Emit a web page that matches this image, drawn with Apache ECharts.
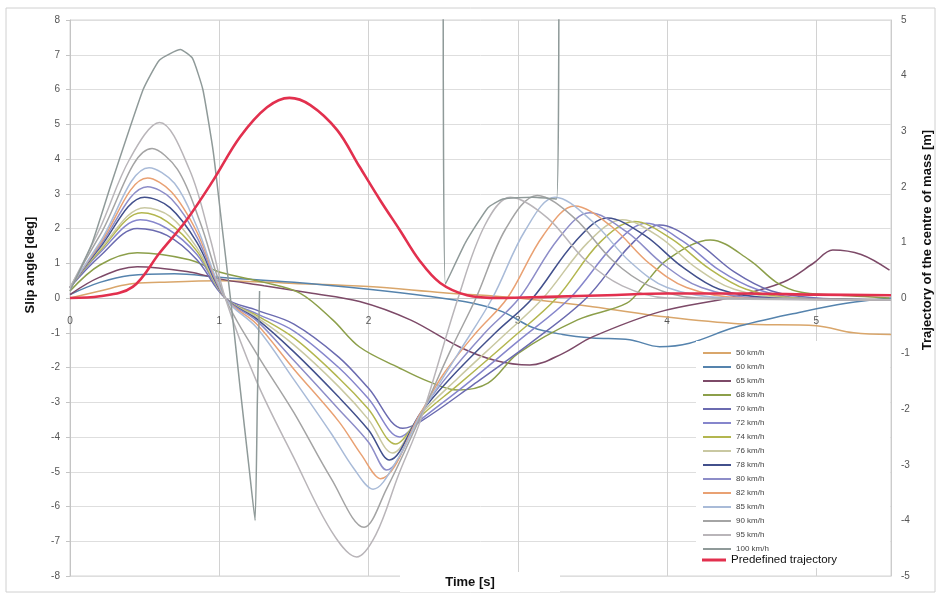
<!DOCTYPE html>
<html>
<head>
<meta charset="utf-8">
<script src="https://cdn.jsdelivr.net/npm/echarts@6/dist/echarts.min.js"></script>
<style>
  html, body { margin: 0; padding: 0; background: #ffffff; }
  #chart { width: 941px; height: 598px; }
</style>
</head>
<body>
<div id="chart"></div>
<script>
// Slip angle [deg] against time [s] for each entry speed, plus the predefined
// lateral trajectory of the centre of mass [m] on the secondary axis.

const speedNames = ['50 km/h', '60 km/h', '65 km/h', '68 km/h', '70 km/h', '72 km/h', '74 km/h',
  '76 km/h', '78 km/h', '80 km/h', '82 km/h', '85 km/h', '90 km/h', '95 km/h', '100 km/h'];
const speedColors = ['#d9a66b', '#5583ad', '#7d4a68', '#8c9f4a', '#6b6bb0', '#8686cc', '#b3b64f',
  '#c9c8a2', '#42508c', '#8d8dc8', '#e9a173', '#a9bbd8', '#a4a4a4', '#b9b5b9', '#8f9a99'];

const t50 = [0, 0.2, 0.4, 0.6, 1.0, 1.5, 2.0, 2.5, 3.0, 3.5, 4.0, 4.5, 5.0, 5.25, 5.5];
const s50 = [0.0, 0.2, 0.4, 0.45, 0.5, 0.42, 0.33, 0.15, 0.0, -0.25, -0.55, -0.75, -0.8, -1.0, -1.05];

const t60 = [0, 0.2, 0.4, 0.7, 1.0, 1.5, 2.0, 2.4, 2.7, 2.9, 3.1, 3.3, 3.5, 3.75, 3.95, 4.15, 4.45, 4.9, 5.2, 5.5];
const s60 = [0.1, 0.45, 0.65, 0.7, 0.6, 0.45, 0.25, 0.05, -0.15, -0.4, -0.85, -1.05, -1.15, -1.2, -1.4, -1.3, -0.85, -0.4, -0.15, 0.0];

const t65 = [0, 0.2, 0.45, 0.8, 1.0, 1.3, 1.6, 1.94, 2.28, 2.61, 2.85, 3.08, 3.3, 3.5, 3.95, 4.44, 4.78, 4.98, 5.11, 5.3, 5.49];
const s65 = [0.1, 0.6, 0.9, 0.75, 0.55, 0.35, 0.15, -0.1, -0.63, -1.41, -1.8, -1.93, -1.6, -1.12, -0.4, 0.03, 0.46, 1.0, 1.38, 1.25, 0.8];

const t68 = [0, 0.2, 0.45, 0.8, 1.0, 1.3, 1.54, 1.76, 1.94, 2.2, 2.4, 2.6, 2.8, 3.0, 3.4, 3.73, 3.85, 4.0, 4.29, 4.55, 4.73, 4.89, 5.11, 5.49];
const s68 = [0.2, 0.95, 1.3, 1.1, 0.75, 0.45, 0.14, -0.63, -1.41, -2.0, -2.4, -2.65, -2.45, -1.6, -0.63, -0.15, 0.4, 1.1, 1.67, 1.1, 0.46, 0.17, 0.09, 0.0];

const t70 = [0, 0.2, 0.45, 0.65, 0.85, 1.04, 1.25, 1.5, 1.8, 2.0, 2.23, 2.35, 2.7, 3.1, 3.46, 3.75, 3.95, 4.2, 4.45, 4.7, 5.0, 5.5];
const s70 = [0.3, 1.2, 2.0, 1.8, 1.1, 0.0, -0.35, -0.75, -1.7, -2.6, -3.75, -3.55, -2.5, -1.25, 0.0, 1.5, 2.1, 1.6, 0.75, 0.2, 0.0, -0.05];

const t72 = [0, 0.2, 0.47, 0.65, 0.85, 1.04, 1.25, 1.5, 1.8, 2.0, 2.21, 2.35, 2.65, 3.0, 3.35, 3.65, 3.86, 4.1, 4.35, 4.6, 4.9, 5.5];
const s72 = [0.3, 1.3, 2.25, 2.0, 1.25, 0.0, -0.45, -0.95, -2.0, -2.9, -4.0, -3.5, -2.5, -1.25, 0.0, 1.55, 2.15, 1.65, 0.8, 0.25, 0.0, -0.05];

const t74 = [0, 0.2, 0.48, 0.65, 0.85, 1.04, 1.25, 1.5, 1.8, 2.0, 2.18, 2.35, 2.6, 2.95, 3.26, 3.55, 3.78, 4.03, 4.28, 4.53, 4.85, 5.5];
const s74 = [0.3, 1.35, 2.45, 2.2, 1.35, 0.0, -0.5, -1.15, -2.3, -3.2, -4.2, -3.4, -2.5, -1.2, 0.0, 1.6, 2.2, 1.7, 0.85, 0.25, 0.0, -0.05];

const t76 = [0, 0.2, 0.5, 0.67, 0.85, 1.04, 1.25, 1.5, 1.8, 2.0, 2.16, 2.35, 2.6, 2.9, 3.17, 3.47, 3.7, 3.95, 4.2, 4.45, 4.8, 5.5];
const s76 = [0.3, 1.4, 2.6, 2.35, 1.45, 0.0, -0.55, -1.35, -2.55, -3.5, -4.46, -3.35, -2.3, -1.1, 0.0, 1.6, 2.25, 1.75, 0.85, 0.25, 0.0, -0.05];

const t78 = [0, 0.2, 0.5, 0.67, 0.85, 1.04, 1.25, 1.5, 1.8, 2.0, 2.14, 2.35, 2.55, 2.85, 3.1, 3.38, 3.6, 3.85, 4.1, 4.35, 4.7, 5.5];
const s78 = [0.3, 1.45, 2.9, 2.6, 1.6, 0.0, -0.6, -1.55, -2.85, -3.8, -4.66, -3.3, -2.3, -1.0, 0.0, 1.6, 2.3, 1.8, 0.9, 0.25, 0.0, -0.05];

const t80 = [0, 0.2, 0.52, 0.68, 0.85, 1.04, 1.25, 1.5, 1.8, 2.0, 2.12, 2.35, 2.5, 2.78, 3.01, 3.27, 3.48, 3.73, 3.98, 4.23, 4.6, 5.5];
const s80 = [0.3, 1.5, 3.2, 2.85, 1.75, 0.0, -0.65, -1.8, -3.2, -4.15, -4.95, -3.3, -2.4, -1.0, 0.0, 1.7, 2.45, 1.9, 0.95, 0.3, 0.0, -0.05];

const t82 = [0, 0.2, 0.52, 0.68, 0.85, 1.04, 1.25, 1.5, 1.8, 1.95, 2.08, 2.35, 2.5, 2.72, 2.93, 3.17, 3.38, 3.63, 3.88, 4.13, 4.5, 5.5];
const s82 = [0.3, 1.55, 3.45, 3.05, 1.9, 0.0, -0.75, -2.05, -3.55, -4.5, -5.2, -3.3, -2.2, -1.0, 0.0, 1.8, 2.65, 2.05, 1.0, 0.3, 0.0, -0.05];

const t85 = [0, 0.2, 0.53, 0.7, 0.85, 1.04, 1.25, 1.5, 1.75, 1.9, 2.03, 2.2, 2.35, 2.6, 2.83, 3.05, 3.25, 3.5, 3.75, 4.0, 4.4, 5.5];
const s85 = [0.3, 1.6, 3.75, 3.3, 2.05, 0.0, -0.85, -2.35, -3.9, -4.9, -5.5, -4.6, -3.35, -1.6, 0.0, 1.95, 2.9, 2.2, 1.05, 0.3, 0.0, -0.05];

const t90 = [0, 0.2, 0.55, 0.72, 0.87, 1.04, 1.25, 1.5, 1.75, 1.97, 2.12, 2.35, 2.55, 2.72, 2.92, 3.13, 3.38, 3.63, 3.88, 4.2, 5.5];
const s90 = [0.3, 1.8, 4.3, 3.7, 2.2, 0.0, -1.6, -3.3, -5.2, -6.6, -5.5, -3.4, -1.5, 0.0, 2.0, 2.95, 2.3, 1.1, 0.35, 0.0, -0.05];

const t95 = [0, 0.2, 0.4, 0.6, 0.8, 0.94, 1.04, 1.25, 1.5, 1.75, 1.92, 2.05, 2.2, 2.35, 2.6, 2.78, 2.95, 3.2, 3.45, 3.7, 4.0, 5.5];
const s95 = [0.3, 2.0, 4.0, 5.05, 3.7, 1.7, 0.0, -2.4, -4.6, -6.7, -7.45, -6.8, -5.1, -3.5, 0.0, 2.1, 2.9, 2.3, 1.1, 0.35, 0.0, -0.05];

// The 100 km/h run spins out: null breaks the line while the value is off the scale.
const t100 = [0, 0.15, 0.27, 0.49, 0.6, 0.74, 0.82, 0.89, 0.96, 1.02, 1.08, 1.14, 1.2, 1.24, 1.255, 1.27, 1.28,
  2.49, 2.5, 2.515, 2.65, 2.8, 2.9, 3.1, 3.26, 3.275];
const s100 = [0.2, 1.6, 3.2, 6.0, 6.85, 7.15, 6.9, 6.0, 4.2, 2.0, -0.2, -2.6, -4.9, -6.4, -3.0, 0.2, null,
  null, 9, 0.4, 1.6, 2.6, 2.85, 2.9, 2.85, 9];

const speedTimes = [t50, t60, t65, t68, t70, t72, t74, t76, t78, t80, t82, t85, t90, t95, t100];
const speedSlips = [s50, s60, s65, s68, s70, s72, s74, s76, s78, s80, s82, s85, s90, s95, s100];

// Predefined trajectory of the centre of mass [m]
const trajName = 'Predefined trajectory';
const tTraj = [0, 0.2, 0.42, 0.6, 0.78, 0.96, 1.14, 1.32, 1.47, 1.61, 1.79, 1.94, 2.08, 2.21, 2.34, 2.48, 2.66, 2.88, 3.2, 3.6, 4.0, 4.5, 5.0, 5.5];
const yTraj = [0, 0.03, 0.2, 0.81, 1.4, 2.12, 2.9, 3.43, 3.6, 3.47, 3.02, 2.36, 1.75, 1.22, 0.68, 0.27, 0.05, 0.0, 0.02, 0.05, 0.08, 0.08, 0.06, 0.05];

const pairUp = (t, v) => t.map((x, i) => [x, v[i]]);

const series = speedNames.map((name, k) => ({
  name: name,
  type: 'line',
  data: pairUp(speedTimes[k], speedSlips[k]),
  smooth: k === 14 ? 0.15 : 0.35,
  showSymbol: false,
  symbol: 'none',
  connectNulls: false,
  clip: true,
  lineStyle: { color: speedColors[k], width: 1.5 },
  itemStyle: { color: speedColors[k] },
  z: 2
}));

series.push({
  name: trajName,
  type: 'line',
  yAxisIndex: 1,
  data: pairUp(tTraj, yTraj),
  smooth: 0.35,
  symbol: 'none',
  lineStyle: { color: '#e2304e', width: 2.6 },
  itemStyle: { color: '#e2304e' },
  z: 3
});

const font = '"Liberation Sans", Arial, sans-serif';

const chart = echarts.init(document.getElementById('chart'), null, { renderer: 'canvas' });
chart.setOption({
  backgroundColor: '#ffffff',
  animation: false,
  grid: { left: 70, right: 50, top: 20, bottom: 22, show: true, borderColor: '#d4d4d4', borderWidth: 1 },
  xAxis: {
    type: 'value',
    min: 0, max: 5.5, interval: 1,
    // time axis sits on the zero slip line: lifted from the grid bottom by half the plot height
    offset: -278,
    axisLine: { onZero: false, lineStyle: { color: '#c4c4c4' } },
    axisTick: { show: false },
    axisLabel: { margin: 18, color: '#555', fontSize: 10, fontFamily: font, showMaxLabel: false },
    splitLine: { show: true, lineStyle: { color: '#d2d2d2', width: 1 } }
  },
  yAxis: [
    {
      type: 'value',
      min: -8, max: 8, interval: 1,
      axisLine: { show: true, onZero: false, lineStyle: { color: '#c4c4c4' } },
      axisTick: { show: true, length: 4, lineStyle: { color: '#c4c4c4' } },
      axisLabel: { margin: 10, color: '#555', fontSize: 10, fontFamily: font },
      splitLine: { show: true, lineStyle: { color: '#dedede', width: 1 } }
    },
    {
      type: 'value',
      min: -5, max: 5, interval: 1,
      position: 'right',
      axisLine: { show: true, onZero: false, lineStyle: { color: '#cccccc' } },
      axisTick: { show: false },
      axisLabel: { margin: 10, color: '#555', fontSize: 10, fontFamily: font },
      splitLine: { show: false }
    }
  ],
  legend: [
    {
      data: speedNames,
      orient: 'vertical',
      left: 698, top: 343,
      icon: 'rect',
      itemWidth: 28, itemHeight: 2,
      itemGap: 4,
      textStyle: { fontSize: 8, lineHeight: 10, color: '#444', fontFamily: font },
      selectedMode: false,
      z: 5
    },
    {
      data: [trajName],
      orient: 'vertical',
      left: 697, top: 549,
      icon: 'rect',
      itemWidth: 24, itemHeight: 3,
      textStyle: { fontSize: 11.5, color: '#111', fontFamily: font },
      selectedMode: false,
      z: 5
    }
  ],
  graphic: [
    { type: 'rect', shape: { x: 6, y: 8, width: 929, height: 584 }, style: { fill: null, stroke: '#d0d0d0', lineWidth: 1 }, z: 0, silent: true },
    { type: 'rect', shape: { x: 696, y: 341, width: 194, height: 227 }, style: { fill: '#ffffff' }, z: 4, silent: true },
    { type: 'rect', shape: { x: 722, y: 548, width: 168, height: 20 }, style: { fill: '#ffffff' }, z: 5, silent: true },
    { type: 'rect', shape: { x: 400, y: 572, width: 160, height: 20 }, style: { fill: '#ffffff' }, z: 4, silent: true },
    { type: 'text', x: 470, y: 582, style: { text: 'Time [s]', font: 'bold 13px ' + font, fill: '#111', textAlign: 'center', textVerticalAlign: 'middle' }, z: 5 },
    { type: 'text', x: 30, y: 265, rotation: Math.PI / 2, style: { text: 'Slip angle [deg]', font: 'bold 13px ' + font, fill: '#111', textAlign: 'center', textVerticalAlign: 'middle' }, z: 5 },
    { type: 'text', x: 927, y: 240, rotation: Math.PI / 2, style: { text: 'Trajectory of the centre of mass [m]', font: 'bold 13px ' + font, fill: '#111', textAlign: 'center', textVerticalAlign: 'middle' }, z: 5 }
  ],
  series: series
});
</script>
</body>
</html>
